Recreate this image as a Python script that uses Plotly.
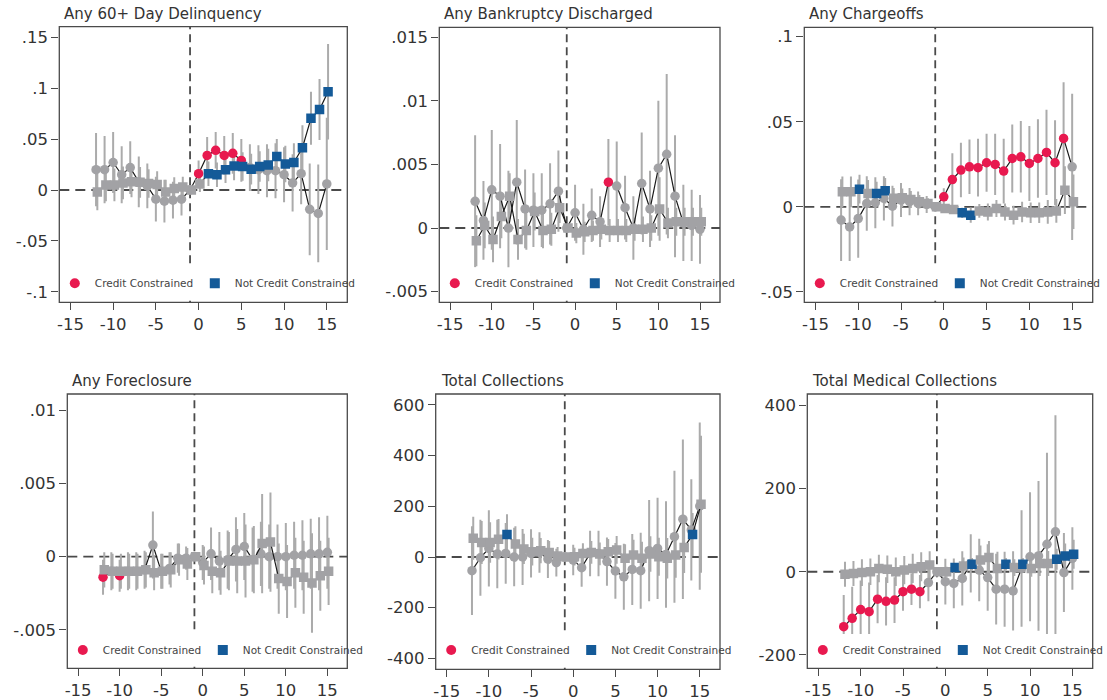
import plotly.graph_objects as go

# ---------------- data ----------------
periods = list(range(-12, 16))

titles = ["Any 60+ Day Delinquency", "Any Bankruptcy Discharged", "Any Chargeoffs",
          "Any Foreclosure", "Total Collections", "Total Medical Collections"]

x_tickvals = [-15, -10, -5, 0, 5, 10, 15]
x_ticktext = ["-15", "-10", "-5", "0", "5", "10", "15"]

# Panel 1: Any 60+ Day Delinquency
delinq_cc = [0.020, 0.020, 0.027, 0.015, 0.022, 0.008, 0.004, -0.009, -0.011, -0.010, -0.009, 0.0,
             0.016, 0.034, 0.039, 0.034, 0.036, 0.029, 0.022, 0.020, 0.019, 0.019, 0.015, 0.007,
             0.016, -0.019, -0.023, 0.006]
delinq_cc_ci = [0.036, 0.033, 0.030, 0.028, 0.026, 0.025, 0.022, 0.022, 0.021, 0.018, 0.016, 0.0,
                0.013, 0.018, 0.018, 0.019, 0.020, 0.021, 0.023, 0.024, 0.026, 0.027, 0.027, 0.028,
                0.030, 0.045, 0.048, 0.065]
delinq_cc_sig = [0]*12 + [1, 1, 1, 1, 1, 1] + [0]*10
delinq_ncc = [-0.002, 0.005, 0.005, 0.007, 0.008, 0.0075, 0.0065, 0.0055, -0.002, 0.0015, 0.003, 0.0,
              0.006, 0.016, 0.015, 0.020, 0.0235, 0.023, 0.0205, 0.023, 0.0245, 0.033, 0.0255, 0.027,
              0.0415, 0.0705, 0.079, 0.0965]
delinq_ncc_ci = [0.018, 0.016, 0.016, 0.016, 0.015, 0.015, 0.014, 0.013, 0.012, 0.011, 0.010, 0.0,
                 0.008, 0.012, 0.012, 0.013, 0.014, 0.014, 0.015, 0.015, 0.016, 0.017, 0.018, 0.019,
                 0.022, 0.026, 0.030, 0.047]
delinq_ncc_sig = [0]*13 + [1]*15
delinq_yticks = [-0.1, -0.05, 0, 0.05, 0.1, 0.15]
delinq_yticktext = ["-.1", "-.05", "0", ".05", ".1", ".15"]

# Panel 2: Any Bankruptcy Discharged
bankr_cc = [0.0021, 0.0006, 0.0030, 0.0025, 0.0000, 0.0036, 0.0015, 0.0014, 0.0014, 0.0019, 0.0029, 0.0,
            0.0012, -0.0001, 0.0010, 0.0005, 0.0036, 0.0033, 0.0016, 0.0000, 0.0035, 0.0015, 0.0047, 0.0058,
            0.0025, 0.0004, 0.0002, -0.0001]
bankr_cc_ci = [0.0052, 0.0031, 0.0047, 0.0041, 0.0045, 0.0049, 0.0031, 0.0029, 0.0029, 0.0032, 0.0032, 0.0,
               0.0022, 0.0020, 0.0021, 0.0020, 0.0034, 0.0035, 0.0025, 0.0025, 0.0040, 0.0030, 0.0053, 0.0063,
               0.0048, 0.0030, 0.0028, 0.0027]
bankr_cc_sig = [0]*16 + [1] + [0]*11
bankr_ncc = [-0.0010, 0.0002, -0.0009, 0.0009, 0.0025, -0.0009, -0.0002, 0.0013, -0.0002, -0.0001, 0.0016, 0.0,
             -0.0004, -0.0003, -0.0002, -0.0001, -0.0002, -0.0002, -0.0002, -0.0001, -0.0001, 0.0000, 0.0015, 0.0004,
             0.0005, 0.0005, 0.0005, 0.0005]
bankr_ncc_ci = [0.0020, 0.0018, 0.0018, 0.0017, 0.0018, 0.0016, 0.0015, 0.0015, 0.0014, 0.0013, 0.0012, 0.0,
                0.0008, 0.0008, 0.0008, 0.0008, 0.0009, 0.0009, 0.0009, 0.0009, 0.0010, 0.0010, 0.0025, 0.0012,
                0.0011, 0.0011, 0.0011, 0.0011]
bankr_ncc_sig = [0]*28
bankr_yticks = [-0.005, 0, 0.005, 0.01, 0.015]
bankr_yticktext = ["-.005", "0", ".005", ".01", ".015"]

# Panel 3: Any Chargeoffs
charge_cc = [-0.0078, -0.0118, -0.0069, 0.0020, 0.0024, 0.0050, 0.0004, 0.0040, 0.0030, 0.0020, 0.0014, 0.0,
             0.0059, 0.0160, 0.0216, 0.0235, 0.0230, 0.0259, 0.0249, 0.0210, 0.0284, 0.0294, 0.0255, 0.0284,
             0.0320, 0.0259, 0.0402, 0.0235]
charge_cc_ci = [0.024, 0.020, 0.023, 0.016, 0.015, 0.013, 0.012, 0.010, 0.008, 0.007, 0.005, 0.0,
                0.005, 0.0155, 0.016, 0.016, 0.017, 0.017, 0.018, 0.019, 0.020, 0.021, 0.022, 0.023,
                0.025, 0.025, 0.033, 0.043]
charge_cc_sig = [0]*12 + [1]*15 + [0]
charge_ncc = [0.0088, 0.0088, 0.0104, 0.0078, 0.0078, 0.0094, 0.0050, 0.0053, 0.0043, 0.0030, 0.0020, 0.0,
              -0.0010, -0.0016, -0.0035, -0.0049, -0.0024, -0.0030, -0.0010, -0.0030, -0.0049, -0.0030, -0.0035, -0.0035,
              -0.0030, -0.0024, 0.0098, 0.0030]
charge_ncc_ci = [0.009, 0.009, 0.0085, 0.008, 0.007, 0.0075, 0.006, 0.0055, 0.005, 0.004, 0.003, 0.0,
                 0.002, 0.002, 0.003, 0.0045, 0.004, 0.005, 0.005, 0.005, 0.0055, 0.006, 0.006, 0.006,
                 0.007, 0.007, 0.014, 0.016]
charge_ncc_sig = [0, 0, 1, 0, 1, 1, 0, 0, 0, 0, 0, 0, 0, 0, 1, 1] + [0]*12
charge_yticks = [-0.05, 0, 0.05, 0.1]
charge_yticktext = ["-.05", "0", ".05", ".1"]

# Panel 4: Any Foreclosure
forecl_cc = [-0.0014, -0.0010, -0.0013, -0.0010, -0.0010, -0.0009, 0.0008, -0.0010, -0.0008, -0.0001, -0.0001, 0.0,
             -0.0004, 0.0002, -0.0003, -0.0002, 0.0005, 0.0007, -0.0002, 0.0002, 0.0000, 0.0000, 0.0000, 0.0001,
             0.0001, 0.0002, 0.0002, 0.0003]
forecl_cc_ci = [0.0012, 0.0013, 0.0011, 0.0013, 0.0013, 0.0013, 0.0023, 0.0012, 0.0011, 0.0010, 0.0008, 0.0,
                0.0012, 0.0018, 0.0020, 0.0020, 0.0022, 0.0023, 0.0022, 0.0022, 0.0022, 0.0022, 0.0023, 0.0023,
                0.0024, 0.0024, 0.0025, 0.0025]
forecl_cc_sig = [1, 0, 1] + [0]*25
forecl_ncc = [-0.0009, -0.0010, -0.0010, -0.0010, -0.0010, -0.0009, -0.0011, -0.0010, -0.0009, -0.0002, -0.0005, 0.0,
              -0.0006, -0.0010, -0.0011, -0.0003, -0.0003, -0.0003, -0.0002, 0.0009, 0.0010, -0.0015, -0.0017, -0.0011,
              -0.0014, -0.0018, -0.0013, -0.0010]
forecl_ncc_ci = [0.0012, 0.0012, 0.0012, 0.0012, 0.0012, 0.0012, 0.0012, 0.0012, 0.0012, 0.0011, 0.0011, 0.0,
                 0.0013, 0.0015, 0.0015, 0.0020, 0.0022, 0.0025, 0.0023, 0.0034, 0.0034, 0.0024, 0.0025, 0.0024,
                 0.0025, 0.0034, 0.0024, 0.0023]
forecl_ncc_sig = [0]*28
forecl_yticks = [-0.005, 0, 0.005, 0.01]
forecl_yticktext = ["-.005", "0", ".005", ".01"]

# Panel 5: Total Collections
coll_cc = [-54, -3, 34, 12, 14, 0, 0, 14, 18, -8, -22, 0,
           -12, -42, 14, 14, -18, -55, -78, -49, -54, 25, 34, 10,
           80, 149, 107, 201]
coll_cc_ci = [175, 150, 150, 135, 120, 115, 110, 95, 80, 75, 55, 0,
              60, 75, 90, 90, 95, 110, 130, 140, 150, 200, 200, 210,
              260, 315, 200, 330]
coll_cc_sig = [0]*28
coll_ncc = [74, 57, 57, 70, 89, 51, 32, 21, 25, 18, 4, 0,
            1, 14, 18, 12, 21, 28, -5, 8, -5, 12, 1, -5,
            8, 37, 89, 208]
coll_ncc_ci = [85, 85, 80, 80, 80, 70, 60, 55, 50, 45, 35, 0,
               35, 40, 45, 45, 50, 55, 55, 60, 65, 70, 75, 80,
               90, 100, 85, 270]
coll_ncc_sig = [0, 0, 0, 0, 1] + [0]*21 + [1, 0]
coll_yticks = [-400, -200, 0, 200, 400, 600]
coll_yticktext = ["-400", "-200", "0", "200", "400", "600"]

# Panel 6: Total Medical Collections
med_cc = [-132, -112, -91, -96, -66, -71, -68, -48, -42, -48, -26, 0,
          -24, -28, -16, 20, 4, -14, -42, -42, -46, 8, 36, 38,
          66, 96, -2, 32]
med_cc_ci = [76, 76, 70, 70, 58, 58, 55, 46, 38, 40, 45, 0,
             55, 60, 65, 70, 75, 80, 85, 90, 95, 140, 155, 180,
             220, 280, 95, 75]
med_cc_sig = [1]*10 + [0]*18
med_ncc = [-6, -4, -2, 0, 8, 6, 0, 4, 8, 12, 16, 0,
           0, 10, 14, 18, 28, 34, 8, 18, 10, 18, 8, 20,
           20, 30, 38, 42]
med_ncc_ci = [30, 30, 32, 32, 33, 33, 34, 34, 35, 35, 33, 0,
              12, 8, 20, 15, 35, 40, 40, 15, 20, 15, 20, 30,
              30, 25, 30, 35]
med_ncc_sig = [0]*13 + [1, 0, 1, 0, 0, 0, 1, 0, 1, 0, 0, 0, 1, 1, 1]
med_yticks = [-200, 0, 200, 400]
med_yticktext = ["-200", "0", "200", "400"]

# ---------------- layout constants ----------------
W, H = 1107, 700
RED = "#e8194f"
BLUE = "#145a98"
GRAY = "#a2a2a5"
CI_COL = "#ababab"
TXT = "#333333"
AX = "#4a4a4a"
FONT = "DejaVu Sans"
SQ_OFFSET = 0.15

panels = [
    (delinq_cc, delinq_cc_ci, delinq_cc_sig, delinq_ncc, delinq_ncc_ci, delinq_ncc_sig,
     delinq_yticks, delinq_yticktext, (-0.1103, 0.1604)),
    (bankr_cc, bankr_cc_ci, bankr_cc_sig, bankr_ncc, bankr_ncc_ci, bankr_ncc_sig,
     bankr_yticks, bankr_yticktext, (-0.00584, 0.01578)),
    (charge_cc, charge_cc_ci, charge_cc_sig, charge_ncc, charge_ncc_ci, charge_ncc_sig,
     charge_yticks, charge_yticktext, (-0.0561, 0.1055)),
    (forecl_cc, forecl_cc_ci, forecl_cc_sig, forecl_ncc, forecl_ncc_ci, forecl_ncc_sig,
     forecl_yticks, forecl_yticktext, (-0.00764, 0.01114)),
    (coll_cc, coll_cc_ci, coll_cc_sig, coll_ncc, coll_ncc_ci, coll_ncc_sig,
     coll_yticks, coll_yticktext, (-443, 643)),
    (med_cc, med_cc_ci, med_cc_sig, med_ncc, med_ncc_ci, med_ncc_sig,
     med_yticks, med_yticktext, (-232, 427)),
]

# plot boxes in pixels: left, top, right, bottom
boxes = [(59.3, 26.7, 347.3, 302.3), (439.3, 27.3, 720.0, 302.3), (804.3, 27.3, 1092.7, 302.3),
         (67.3, 394.0, 347.3, 668.3), (435.7, 394.0, 720.0, 669.3), (807.3, 394.0, 1092.7, 668.3)]
legend_y_px = [283.3, 283.3, 283.3, 650.0, 650.0, 650.0]
title_y_px = [14, 14, 14, 381, 381, 381]

fig = go.Figure()
shapes = []
annotations = []
layout = {}

for i, (cc, cc_ci, cc_sig, ncc, ncc_ci, ncc_sig, ytv, ytt, yr) in enumerate(panels):
    n = i + 1
    xa = "x" if n == 1 else f"x{n}"
    ya = "y" if n == 1 else f"y{n}"
    xkey = "xaxis" if n == 1 else f"xaxis{n}"
    ykey = "yaxis" if n == 1 else f"yaxis{n}"
    lg = "legend" if n == 1 else f"legend{n}"
    l, t, r, b = boxes[i]

    x_cc = list(periods)
    x_ncc = [p + SQ_OFFSET for p in periods]

    # confidence intervals
    for xs, ys, ci in ((x_cc, cc, cc_ci), (x_ncc, ncc, ncc_ci)):
        fig.add_trace(go.Scatter(
            x=xs, y=ys, mode="markers", xaxis=xa, yaxis=ya, showlegend=False, hoverinfo="skip",
            marker=dict(size=1, color="rgba(0,0,0,0)"),
            error_y=dict(type="data", array=ci, symmetric=True, width=0, thickness=2, color=CI_COL)))
    # credit constrained (circles)
    fig.add_trace(go.Scatter(
        x=x_cc, y=cc, mode="lines+markers", xaxis=xa, yaxis=ya, showlegend=False,
        line=dict(color="#1a1a1a", width=1.2),
        marker=dict(symbol="circle", size=9.5, color=[RED if s else GRAY for s in cc_sig],
                    line=dict(width=0))))
    # not credit constrained (squares)
    fig.add_trace(go.Scatter(
        x=x_ncc, y=ncc, mode="lines+markers", xaxis=xa, yaxis=ya, showlegend=False,
        line=dict(color="#1a1a1a", width=1.2),
        marker=dict(symbol="square", size=9.5, color=[BLUE if s else GRAY for s in ncc_sig],
                    line=dict(width=0))))
    # legend entries
    fig.add_trace(go.Scatter(x=[None], y=[None], mode="markers", xaxis=xa, yaxis=ya,
                             name="Credit Constrained", legend=lg, showlegend=True, legendwidth=95,
                             marker=dict(symbol="circle", size=10, color=RED)))
    fig.add_trace(go.Scatter(x=[None], y=[None], mode="markers", xaxis=xa, yaxis=ya,
                             name="Not Credit Constrained", legend=lg, showlegend=True, legendwidth=122,
                             marker=dict(symbol="square", size=10, color=BLUE)))

    layout[xkey] = dict(domain=[l / W, r / W], anchor=ya, range=[-16.3, 17.4],
                        tickvals=x_tickvals, ticktext=x_ticktext, ticks="outside", ticklen=7,
                        tickwidth=1.3, tickcolor=AX, showgrid=False, zeroline=False, showline=False,
                        tickfont=dict(family=FONT, size=16.5, color=TXT))
    layout[ykey] = dict(domain=[1 - b / H, 1 - t / H], anchor=xa, range=list(yr),
                        tickvals=ytv, ticktext=ytt, ticks="outside", ticklen=7,
                        tickwidth=1.3, tickcolor=AX, showgrid=False, zeroline=False, showline=False,
                        tickfont=dict(family=FONT, size=16.5, color=TXT))
    layout[lg] = dict(orientation="h", x=(l - 4.5) / W, y=1 - legend_y_px[i] / H,
                      xanchor="left", yanchor="middle", bgcolor="rgba(0,0,0,0)", borderwidth=0,
                      font=dict(family=FONT, size=10.5, color="#444444"))

    # reference lines
    shapes.append(dict(type="line", xref=f"{xa} domain", yref=ya, x0=0, x1=1, y0=0, y1=0,
                       line=dict(color=AX, width=1.8, dash="10px,6px"), layer="below"))
    shapes.append(dict(type="line", xref=xa, yref=f"{ya} domain", x0=-1, x1=-1, y0=0, y1=1,
                       line=dict(color=AX, width=1.8, dash="8px,5px"), layer="below"))
    # white legend band inside the plot
    band_top = legend_y_px[i] - 16
    shapes.append(dict(type="rect", xref=f"{xa} domain", yref="paper", x0=0.003, x1=0.997,
                       y0=1 - (b - 1.5) / H, y1=1 - band_top / H,
                       fillcolor="white", line=dict(width=0), layer="above"))
    # frame
    shapes.append(dict(type="rect", xref=f"{xa} domain", yref=f"{ya} domain", x0=0, x1=1, y0=0, y1=1,
                       line=dict(color=AX, width=1.3), fillcolor="rgba(0,0,0,0)", layer="above"))
    # panel title
    annotations.append(dict(text=titles[i], xref="paper", yref="paper", x=(l + 3) / W,
                            y=1 - title_y_px[i] / H, xanchor="left", yanchor="middle",
                            showarrow=False, font=dict(family=FONT, size=15, color=TXT)))

fig.update_layout(width=W, height=H, margin=dict(l=0, r=0, t=0, b=0, autoexpand=False),
                  paper_bgcolor="white", plot_bgcolor="white",
                  shapes=shapes, annotations=annotations, **layout)

fig.write_html("out.html")
